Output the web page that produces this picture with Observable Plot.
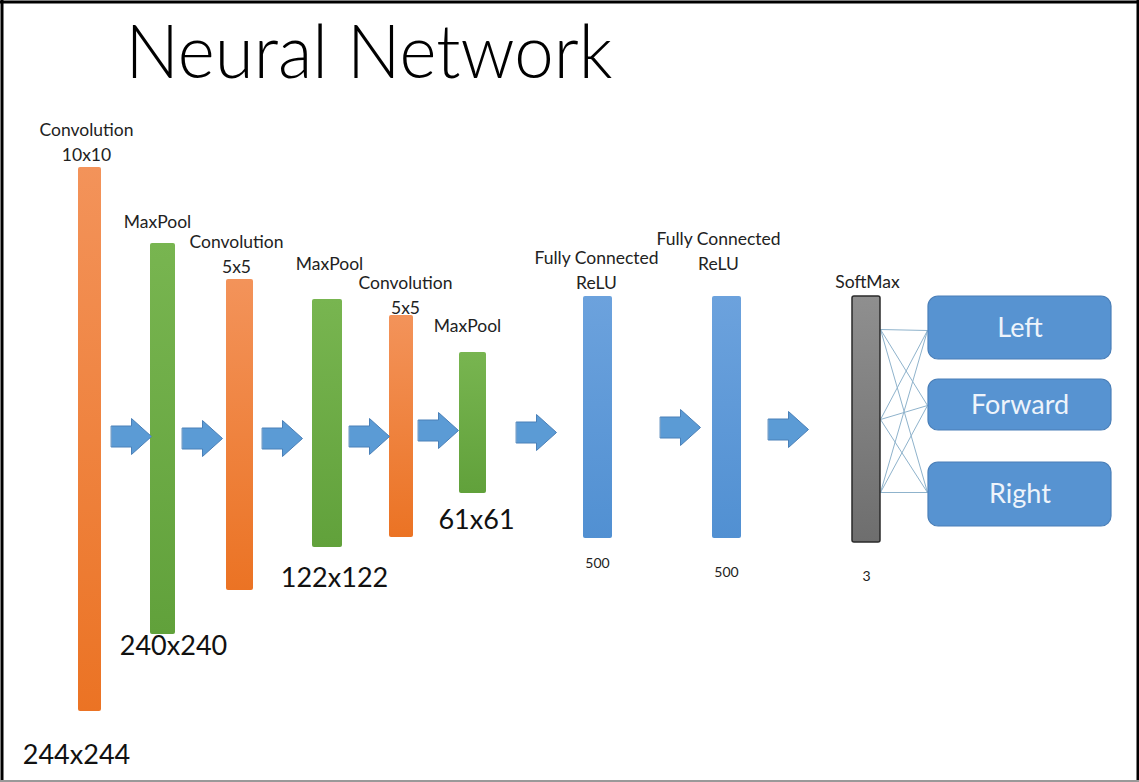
<!DOCTYPE html>
<html><head><meta charset="utf-8">
<script src="https://cdn.jsdelivr.net/npm/d3@7"></script>
<script src="https://cdn.jsdelivr.net/npm/@observablehq/plot@0.6"></script>
<style>html,body{margin:0;padding:0;background:#fff;} #chart svg{display:block;}</style>
</head><body><div id="chart"></div>
<script>
// ---- data ----
const title = "Neural Network";
const layerLabels = ["Convolution\n10x10", "MaxPool", "Convolution\n5x5", "MaxPool", "Convolution\n5x5", "MaxPool", "Fully Connected\nReLU", "Fully Connected\nReLU", "SoftMax"];
const layerKinds = ["conv", "pool", "conv", "pool", "conv", "pool", "fc", "fc", "softmax"];
const sizeLabels = ["244x244", "240x240", "", "122x122", "", "61x61", "500", "500", "3"];
// layer extents (diagram units)
const layerLeft   = [78, 150, 226, 312, 389, 459, 583, 712, 852];
const layerRight  = [101, 175, 253, 342, 413, 486, 612, 741, 880];
const layerTop    = [167, 243, 279, 299, 315, 352, 296, 296, 296];
const layerBottom = [711, 634, 590, 547, 537, 493, 538, 538, 542];
const labelX = [86, 157, 236, 329, 405, 467, 596, 718, 867];
const labelY = [140, 220, 252, 262, 293, 324, 268, 249, 280];
const sizeX = [76, 173, 0, 334, 0, 476, 597, 726, 866];
const sizeY = [755, 646, 0, 578, 0, 520, 563, 572, 576];
// arrows between layers
const arrowX = [131, 202, 282, 369, 438, 536, 680, 788];
const arrowY = [436, 438, 438, 436, 430, 432, 427, 429];
// outputs
const outputs = ["Left", "Forward", "Right"];
const outputTop = [296, 379, 462];
const outputBottom = [359, 430, 526];
const outputLeft = 928, outputRight = 1111;
const softmaxPortY = [329, 419, 492];
const outputPortY = [330, 405, 492];

// ---- build tables ----
const gradFor = {conv: "url(#gConv)", pool: "url(#gPool)", fc: "url(#gFc)", softmax: "url(#gSoft)"};
const layers = layerLabels.map((label, i) => ({
  label, kind: layerKinds[i], fill: gradFor[layerKinds[i]],
  x1: layerLeft[i], x2: layerRight[i], y1: layerTop[i], y2: layerBottom[i],
  lx: labelX[i], ly: labelY[i], size: sizeLabels[i], sx: sizeX[i], sy: sizeY[i]
}));
const arrowShape = [[-20,-10.5],[0,-10.5],[0,-18],[20,0],[0,18],[0,10.5],[-20,10.5]];
const arrowPts = arrowX.flatMap((cx, i) => arrowShape.map(([dx, dy]) => ({id: i, x: cx + dx, y: arrowY[i] + dy})));
const outBoxes = outputs.map((name, i) => ({name, y1: outputTop[i], y2: outputBottom[i], cy: (outputTop[i] + outputBottom[i]) / 2}));
const links = softmaxPortY.flatMap(a => outputPortY.map(b => ({y1: a, y2: b})));
const softR = layerRight[8];

const W = 1139, H = 782;
const chart = Plot.plot({
  width: W, height: H, margin: 0,
  x: {domain: [0, W], range: [0, W], axis: null},
  y: {domain: [0, H], range: [0, H], axis: null},
  color: {type: "identity"},
  style: {background: "#fff"},
  marks: [
    Plot.text([title], {x: 125, y: 54, text: d => d, textAnchor: "start", lineAnchor: "middle",
      fontSize: 74, fontWeight: 300, fontFamily: "Lato", fill: "#000"}),
    Plot.link(links, {x1: softR, x2: outputLeft - 1, y1: "y1", y2: "y2", stroke: "#8fb3cc", strokeWidth: 1}),
    Plot.rect(layers, {x1: "x1", x2: "x2", y1: "y1", y2: "y2", fill: "fill", rx: 2,
      stroke: d => d.kind === "softmax" ? "#2a2a2a" : "none", strokeWidth: 1.5}),
    Plot.line(arrowPts, {x: "x", y: "y", z: "id", fill: "#5b9bd5", stroke: "#4a80b8", strokeWidth: 1, curve: "linear-closed"}),
    Plot.text(layers, {x: "lx", y: "ly", text: "label", lineAnchor: "middle", lineHeight: 1.4,
      fontSize: 17.5, fontFamily: "Lato", fill: "#222"}),
    Plot.text(layers.filter(d => d.size && d.size.includes("x")), {x: "sx", y: "sy", text: "size", lineAnchor: "middle",
      fontSize: 27, fontFamily: "Lato", fill: "#111"}),
    Plot.text(layers.filter(d => d.size && !d.size.includes("x")), {x: "sx", y: "sy", text: "size", lineAnchor: "middle",
      fontSize: 14, fontFamily: "Lato", fill: "#222"}),
    Plot.rect(outBoxes, {x1: outputLeft, x2: outputRight, y1: "y1", y2: "y2", rx: 10, fill: "#5793d1", stroke: "#4a7fb8", strokeWidth: 1.2}),
    Plot.text(outBoxes, {x: (outputLeft + outputRight) / 2, y: "cy", text: "name", lineAnchor: "middle",
      fontSize: 27, fontFamily: "Lato", fill: "#eef4fb"}),
    // frame
    Plot.ruleX([1.5], {y1: 0, y2: H, stroke: "#000", strokeWidth: 3}),
    Plot.ruleX([W - 1.5], {y1: 0, y2: H, stroke: "#000", strokeWidth: 3}),
    Plot.ruleY([1.5], {x1: 0, x2: W, stroke: "#000", strokeWidth: 3}),
    Plot.ruleY([H - 1.5], {x1: 0, x2: W, stroke: "#999", strokeWidth: 2})
  ]
});

// gradients
const svg = d3.select(chart);
const defs = svg.insert("defs", ":first-child");
const grads = {gConv: ["#f3935a", "#eb7324"], gPool: ["#78b550", "#61a13b"], gFc: ["#6ca2dd", "#5190d2"], gSoft: ["#8f8f8f", "#6e6e6e"]};
for (const [id, [a, b]] of Object.entries(grads)) {
  const g = defs.append("linearGradient").attr("id", id).attr("x1", 0).attr("y1", 0).attr("x2", 0).attr("y2", 1);
  g.append("stop").attr("offset", "0%").attr("stop-color", a);
  g.append("stop").attr("offset", "100%").attr("stop-color", b);
}
// fit title width
svg.selectAll("text").filter(function() { return this.textContent === title; })
  .attr("textLength", 487).attr("lengthAdjust", "spacingAndGlyphs");
document.getElementById("chart").appendChild(chart);
</script></body></html>
